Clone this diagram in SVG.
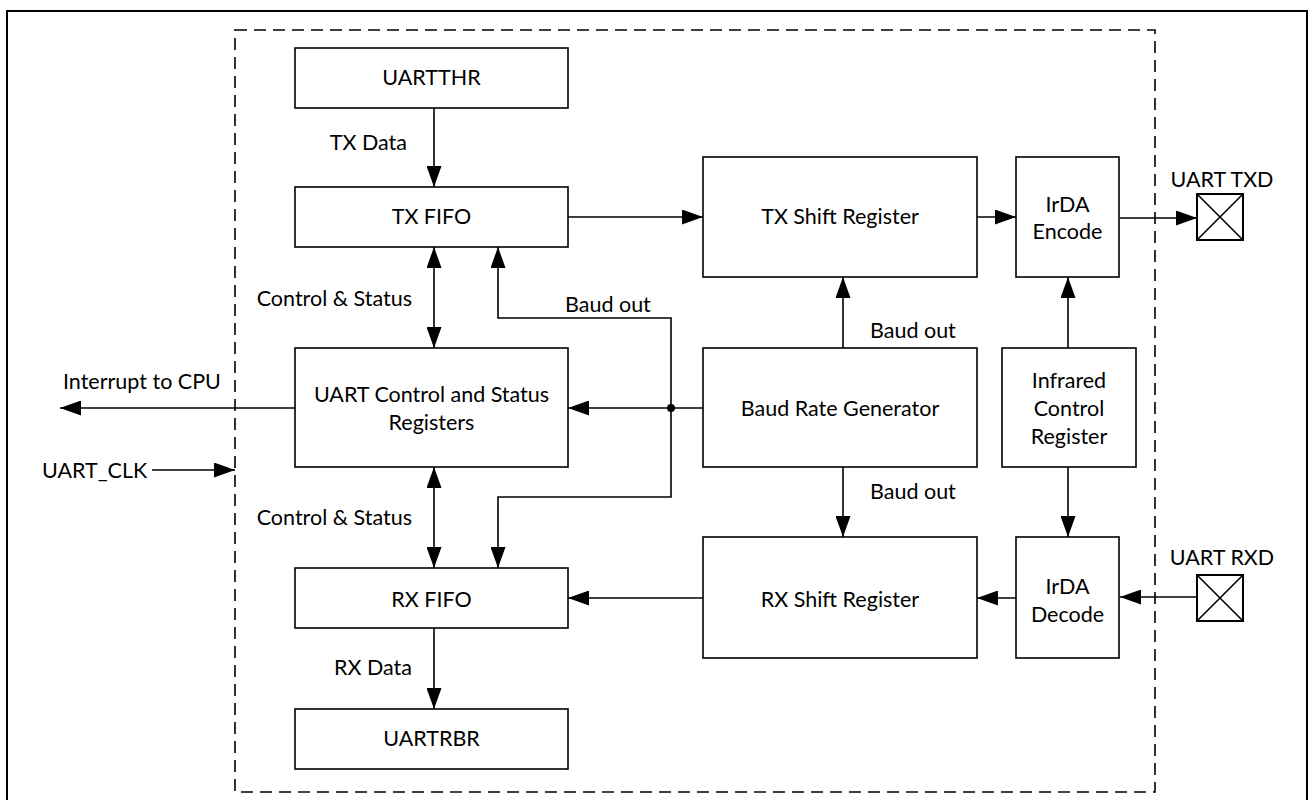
<svg xmlns="http://www.w3.org/2000/svg" width="1309" height="800" viewBox="0 0 1309 800">
<defs>
<marker id="ah" markerUnits="userSpaceOnUse" markerWidth="21" markerHeight="15" refX="21" refY="7.5" orient="auto-start-reverse" viewBox="0 0 21 15">
<path d="M0,0 L21,7.5 L0,15 z" fill="#000"/>
</marker>
<style>
.box{fill:#fff;stroke:#000;stroke-width:1.6}
.t{font-family:Lato,"Liberation Sans",sans-serif;font-size:21.5px;fill:#000;text-anchor:middle}
.l{font-family:Lato,"Liberation Sans",sans-serif;font-size:21.5px;fill:#000}
.w{fill:none;stroke:#000;stroke-width:1.6}
.a{fill:none;stroke:#000;stroke-width:1.6;marker-end:url(#ah)}
.d{fill:none;stroke:#000;stroke-width:1.6;marker-start:url(#ah);marker-end:url(#ah)}
</style>
</defs>
<rect x="0" y="0" width="1309" height="800" fill="#fff"/>
<rect x="7" y="11" width="1300" height="800" fill="none" stroke="#000" stroke-width="2"/>
<rect x="235" y="30" width="920" height="762" fill="none" stroke="#000" stroke-width="1.6" stroke-dasharray="12,7"/>

<g id="connectors">
<line class="a" x1="434" y1="108" x2="434" y2="187"/>
<line class="a" x1="568" y1="217" x2="703" y2="217"/>
<line class="a" x1="977" y1="217" x2="1016" y2="217"/>
<line class="a" x1="1120" y1="218" x2="1197" y2="218"/>
<line class="d" x1="434" y1="247" x2="434" y2="348"/>
<line class="d" x1="434" y1="467" x2="434" y2="568"/>
<line class="a" x1="434" y1="628" x2="434" y2="709"/>
<line class="a" x1="843" y1="348" x2="843" y2="277"/>
<line class="a" x1="1068" y1="348" x2="1068" y2="277"/>
<line class="a" x1="843" y1="467" x2="843" y2="537"/>
<line class="a" x1="1068" y1="467" x2="1068" y2="537"/>
<line class="a" x1="703" y1="408" x2="568" y2="408"/>
<polyline class="a" points="671,408 671,318 498,318 498,247"/>
<polyline class="a" points="671,408 671,497 498,497 498,568"/>
<circle cx="671" cy="408" r="4" fill="#000"/>
<line class="a" x1="703" y1="598" x2="568" y2="598"/>
<line class="a" x1="1016" y1="598" x2="977" y2="598"/>
<line class="a" x1="1197" y1="597" x2="1120" y2="597"/>
<line class="a" x1="295" y1="408" x2="60" y2="408"/>
<line class="a" x1="152" y1="470" x2="235" y2="470"/>
<text class="l" x="407" y="150" text-anchor="end">TX Data</text>
<text class="l" x="412" y="306" text-anchor="end">Control &amp; Status</text>
<text class="l" x="412" y="525" text-anchor="end">Control &amp; Status</text>
<text class="l" x="412" y="675" text-anchor="end">RX Data</text>
<text class="l" x="565" y="312">Baud out</text>
<text class="l" x="870" y="338">Baud out</text>
<text class="l" x="870" y="499">Baud out</text>
<text class="l" x="63" y="389">Interrupt to CPU</text>
<text class="l" x="42" y="478">UART_CLK</text>
</g>

<g id="uartthr"><rect class="box" x="295" y="48" width="273" height="60"/><text class="t" x="431.5" y="85">UARTTHR</text></g>
<g id="txfifo"><rect class="box" x="295" y="187" width="273" height="60"/><text class="t" x="431.5" y="224">TX FIFO</text></g>
<g id="txshift"><rect class="box" x="703" y="157" width="274" height="120"/><text class="t" x="840" y="224">TX Shift Register</text></g>
<g id="irdaenc"><rect class="box" x="1016" y="157" width="103" height="120"/><text class="t" x="1067.5" y="212">IrDA</text><text class="t" x="1067.5" y="239">Encode</text></g>
<g id="ctrl"><rect class="box" x="295" y="348" width="273" height="119"/><text class="t" x="431.5" y="402">UART Control and Status</text><text class="t" x="431.5" y="430">Registers</text></g>
<g id="baud"><rect class="box" x="703" y="348" width="274" height="119"/><text class="t" x="840" y="416">Baud Rate Generator</text></g>
<g id="irctrl"><rect class="box" x="1002" y="348" width="134" height="119"/><text class="t" x="1069" y="388">Infrared</text><text class="t" x="1069" y="416">Control</text><text class="t" x="1069" y="444">Register</text></g>
<g id="rxfifo"><rect class="box" x="295" y="568" width="273" height="60"/><text class="t" x="431.5" y="607">RX FIFO</text></g>
<g id="rxshift"><rect class="box" x="703" y="537" width="274" height="121"/><text class="t" x="840" y="607">RX Shift Register</text></g>
<g id="irdadec"><rect class="box" x="1016" y="537" width="103" height="121"/><text class="t" x="1067.5" y="594">IrDA</text><text class="t" x="1067.5" y="622">Decode</text></g>
<g id="uartrbr"><rect class="box" x="295" y="709" width="273" height="60"/><text class="t" x="431.5" y="746">UARTRBR</text></g>
<g id="txd"><rect x="1197" y="194" width="46" height="46" fill="#fff" stroke="#000" stroke-width="2"/><path d="M1197,194 L1243,240 M1243,194 L1197,240" stroke="#000" stroke-width="1.6"/><text class="t" x="1222" y="187">UART TXD</text></g>
<g id="rxd"><rect x="1197" y="575" width="46" height="46" fill="#fff" stroke="#000" stroke-width="2"/><path d="M1197,575 L1243,621 M1243,575 L1197,621" stroke="#000" stroke-width="1.6"/><text class="t" x="1222" y="565">UART RXD</text></g>
</svg>
